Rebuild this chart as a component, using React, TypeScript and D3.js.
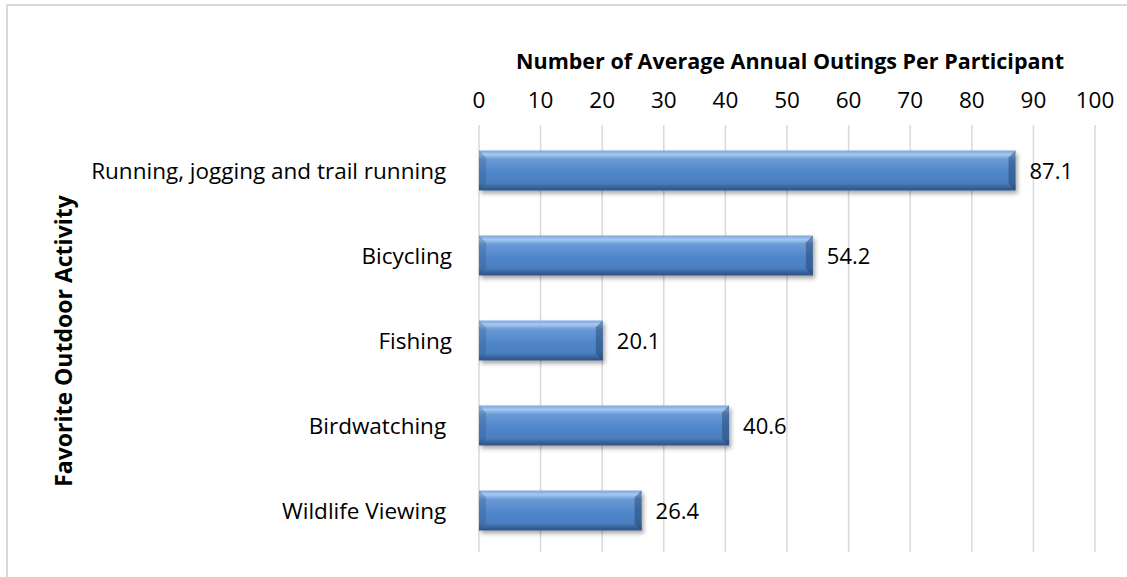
import React from 'react'
import * as d3 from 'd3'

// chart data
const categories = [
	'Running, jogging and trail running ',
	'Bicycling',
	'Fishing',
	'Birdwatching ',
	'Wildlife Viewing ',
]
const values = [87.1, 54.2, 20.1, 40.6, 26.4]
const tickValues = [0, 10, 20, 30, 40, 50, 60, 70, 80, 90, 100]

const xTitle = 'Number of Average Annual Outings Per Participant'
const yTitle = 'Favorite Outdoor Activity'

export default function App() {
	const width = 1127
	const height = 577
	const font = '"Open Sans", Lato, sans-serif'

	const x = d3.scaleLinear().domain([0, 100]).range([479, 1095])
	const y = d3
		.scaleBand()
		.domain(categories)
		.range([128, 553])
		.paddingInner(0.53)
		.paddingOuter(0.265)

	const bh = y.bandwidth()

	return (
		<svg
			width={width}
			height={height}
			style={{ position: 'absolute', left: 0, top: 0, background: '#fff' }}
		>
			<defs>
				<linearGradient id="barGrad" x1="0" y1="0" x2="0" y2="1">
					<stop offset="0" stopColor="#7aa6de" />
					<stop offset="0.1" stopColor="#a5c8f0" />
					<stop offset="0.22" stopColor="#6b9ad6" />
					<stop offset="0.5" stopColor="#5288cb" />
					<stop offset="0.82" stopColor="#4a7ec0" />
					<stop offset="0.9" stopColor="#3b679f" />
					<stop offset="1" stopColor="#2c5384" />
				</linearGradient>
				<filter id="shadow" x="-5%" y="-20%" width="110%" height="160%">
					<feDropShadow dx="2" dy="3" stdDeviation="2" floodColor="#000" floodOpacity="0.35" />
				</filter>
			</defs>

			{/* chart frame */}
			<rect x={7} y={5} width={1140} height={600} fill="none" stroke="#d9d9d9" strokeWidth={2} />

			{/* gridlines */}
			{tickValues.map((t) => (
				<line
					key={'g' + t}
					x1={x(t)}
					x2={x(t)}
					y1={125}
					y2={552}
					stroke="#d9d9d9"
					strokeWidth={1.5}
				/>
			))}

			{/* tick labels */}
			{tickValues.map((t) => (
				<text
					key={'t' + t}
					x={x(t)}
					y={108}
					textAnchor="middle"
					fontFamily={font}
					fontSize={22.5}
					fill="#000"
				>
					{t}
				</text>
			))}

			{/* axis titles */}
			<text
				x={790}
				y={69}
				textAnchor="middle"
				fontFamily={font}
				fontSize={21.5}
				fontWeight="bold"
			>
				{xTitle}
			</text>
			<text
				transform="translate(72, 341) rotate(-90)"
				textAnchor="middle"
				fontFamily={font}
				fontSize={23}
				fontWeight="bold"
			>
				{yTitle}
			</text>

			{/* bars */}
			{categories.map((c, i) => {
				const y0 = y(c) as number
				const x0 = x(0)
				const x1 = x(values[i])
				const b = 7
				return (
					<g key={c}>
						<rect x={x0} y={y0} width={x1 - x0} height={bh} fill="url(#barGrad)" filter="url(#shadow)" />
						{/* bevel edges */}
						<polygon
							points={`${x0},${y0} ${x0 + b},${y0 + b} ${x0 + b},${y0 + bh - b} ${x0},${y0 + bh}`}
							fill="#2f5686"
							opacity={0.3}
						/>
						<polygon
							points={`${x1},${y0} ${x1 - b},${y0 + b} ${x1 - b},${y0 + bh - b} ${x1},${y0 + bh}`}
							fill="#1f3f66"
							opacity={0.45}
						/>
						<text
							x={x1 + 14}
							y={y0 + bh / 2 + 8}
							fontFamily={font}
							fontSize={22}
							fill="#000"
						>
							{values[i]}
						</text>
						<text
							x={452}
							y={y0 + bh / 2 + 8}
							textAnchor="end"
							fontFamily={font}
							fontSize={22.5}
							fill="#000"
							style={{ whiteSpace: 'pre' }}
						>
							{c}
						</text>
					</g>
				)
			})}
		</svg>
	)
}
